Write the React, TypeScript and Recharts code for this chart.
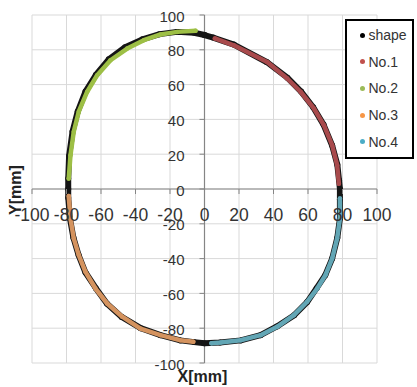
import React from "react";
import {
  ScatterChart,
  Scatter,
  XAxis,
  YAxis,
  CartesianGrid,
  ReferenceLine,
  Legend,
} from "recharts";

// ticks for both axes (mm)
const axisTicks = [-100, -80, -60, -40, -20, 0, 20, 40, 60, 80, 100];

// measured outline, clockwise from the top
const shapePts = [
  { x: 0, y: 88.5 }, { x: 5, y: 87 }, { x: 17, y: 83 }, { x: 36, y: 73 },
  { x: 48, y: 64 }, { x: 56, y: 56 }, { x: 63, y: 47 }, { x: 69, y: 37 },
  { x: 74, y: 25 }, { x: 77, y: 14 }, { x: 78, y: 5 }, { x: 78.5, y: 0 },
  { x: 78.5, y: -6 }, { x: 78.5, y: -17 }, { x: 77, y: -28 }, { x: 74, y: -40 },
  { x: 70, y: -49.5 }, { x: 65, y: -57 }, { x: 59.5, y: -65 }, { x: 52, y: -72.5 },
  { x: 42, y: -79 }, { x: 32.5, y: -84 }, { x: 21, y: -87 }, { x: 9, y: -88.2 },
  { x: 0, y: -88.6 }, { x: -6, y: -88 }, { x: -14, y: -87 }, { x: -25.5, y: -84 },
  { x: -37, y: -80 }, { x: -48, y: -73.5 }, { x: -56.5, y: -66 }, { x: -63, y: -57 },
  { x: -69, y: -48 }, { x: -73, y: -38 }, { x: -76, y: -28 }, { x: -78, y: -17 },
  { x: -79, y: -5 }, { x: -79, y: 0 }, { x: -79, y: 6 }, { x: -78.5, y: 19 },
  { x: -76.5, y: 33 }, { x: -73.5, y: 44.5 }, { x: -69, y: 56 }, { x: -63, y: 65.5 },
  { x: -55.5, y: 74.5 }, { x: -46, y: 81.5 }, { x: -36, y: 86 }, { x: -26, y: 89 },
  { x: -16, y: 90.3 }, { x: -6, y: 89.8 }, { x: 0, y: 88.5 },
];

const no1Pts = [
  { x: 6, y: 86.5 }, { x: 17, y: 82.6 }, { x: 36.3, y: 73 }, { x: 48, y: 63.5 },
  { x: 55.7, y: 55.9 }, { x: 63.4, y: 46.3 }, { x: 69.2, y: 36.7 }, { x: 74, y: 25.2 },
  { x: 76.9, y: 13.7 }, { x: 77.9, y: 3 },
];

const no2Pts = [
  { x: -78.7, y: 6 }, { x: -77.7, y: 19.4 }, { x: -75.8, y: 32.9 }, { x: -72.9, y: 44.4 },
  { x: -68, y: 55.9 }, { x: -62.2, y: 65.4 }, { x: -54.5, y: 74 }, { x: -44.8, y: 80.7 },
  { x: -35.2, y: 85.5 }, { x: -25.5, y: 88.8 }, { x: -15.8, y: 90.3 }, { x: -5.2, y: 90.9 },
];

const no3Pts = [
  { x: -78.7, y: -4 }, { x: -77.7, y: -17 }, { x: -75.8, y: -28.4 }, { x: -72.9, y: -38 },
  { x: -69, y: -47.6 }, { x: -63.2, y: -57.2 }, { x: -56.4, y: -65.8 }, { x: -47.7, y: -73.4 },
  { x: -37.1, y: -80.2 }, { x: -25.5, y: -84 }, { x: -13.9, y: -86.9 }, { x: -6.5, y: -87.8 },
];

const no4Pts = [
  { x: 78.5, y: -5.5 }, { x: 78.5, y: -17 }, { x: 76.9, y: -28.4 }, { x: 74, y: -40 },
  { x: 70.1, y: -49.5 }, { x: 65.3, y: -57.2 }, { x: 59.5, y: -64.8 }, { x: 51.8, y: -72.5 },
  { x: 42.1, y: -79.2 }, { x: 32.5, y: -84 }, { x: 20.9, y: -86.9 }, { x: 9.3, y: -88.2 },
  { x: 4, y: -88.6 },
];

const series = [
  { name: "shape", data: shapePts, dot: "#000000", line: "#151515", width: 6 },
  { name: "No.1", data: no1Pts, dot: "#c0504d", line: "#a84a4c", width: 4.5 },
  { name: "No.2", data: no2Pts, dot: "#9bbb59", line: "#9dbf45", width: 4.5 },
  { name: "No.3", data: no3Pts, dot: "#f79646", line: "#d4935f", width: 4.5 },
  { name: "No.4", data: no4Pts, dot: "#4bacc6", line: "#62a6b5", width: 4.5 },
];

const W = 417;
const H = 387;
const X_AXIS_H = 24;
const Y_AXIS_W = 32;
const M = { top: 15, right: 40, bottom: 0, left: 0 };
const PLOT_L = M.left + Y_AXIS_W;
const PLOT_B = H - M.bottom - X_AXIS_H;
const ZERO_X = PLOT_L + (W - M.right - PLOT_L) / 2;
const ZERO_Y = M.top + (PLOT_B - M.top) / 2;
const FONT = "'Liberation Sans', Arial, sans-serif";
const AXIS = "#858585";

const XTick = (props: any) => {
  const { x, payload } = props;
  return (
    <g>
      <line x1={x} x2={x} y1={ZERO_Y} y2={ZERO_Y + 5} stroke={AXIS} />
      <text x={x} y={ZERO_Y + 32} textAnchor="middle" fontSize={17.5} fill="#333" fontFamily={FONT}>
        {payload.value}
      </text>
    </g>
  );
};

const YTick = (props: any) => {
  const { y, payload } = props;
  return (
    <g>
      <line x1={ZERO_X - 5} x2={ZERO_X} y1={y} y2={y} stroke={AXIS} />
      <text x={ZERO_X - 20} y={y + 6.5} textAnchor="end" fontSize={15} fill="#333" fontFamily={FONT}>
        {payload.value}
      </text>
    </g>
  );
};

const LegendBox = () => (
  <div
    style={{
      width: 69,
      height: 140,
      boxSizing: "border-box",
      border: "2px solid #000",
      background: "#fff",
      paddingTop: 1,
      fontFamily: FONT,
      fontSize: 14,
      color: "#333",
    }}
  >
    {series.map((s) => (
      <div key={s.name} style={{ height: 26.6, display: "flex", alignItems: "center" }}>
        <span
          style={{
            width: 5,
            height: 5,
            borderRadius: "50%",
            background: s.dot,
            marginLeft: 12.5,
            marginRight: 4,
          }}
        />
        <span>{s.name}</span>
      </div>
    ))}
  </div>
);

export default function App() {
  return (
    <div style={{ position: "absolute", left: 0, top: 0, width: W, height: H, background: "#fff" }}>
      <ScatterChart width={W} height={H} margin={M}>
        <CartesianGrid stroke="#d9d9d9" />
        <XAxis
          type="number"
          dataKey="x"
          domain={[-100, 100]}
          ticks={axisTicks}
          interval={0}
          height={X_AXIS_H}
          axisLine={false}
          tickLine={false}
          tick={(p: any) => <XTick {...p} />}
          label={{
            content: () => (
              <text
                x={ZERO_X - 2}
                y={382}
                textAnchor="middle"
                fontSize={16}
                fontWeight="bold"
                fill="#222"
                fontFamily={FONT}
              >
                X[mm]
              </text>
            ),
          }}
        />
        <YAxis
          type="number"
          dataKey="y"
          domain={[-100, 100]}
          ticks={axisTicks}
          interval={0}
          width={Y_AXIS_W}
          axisLine={false}
          tickLine={false}
          tick={(p: any) => <YTick {...p} />}
          label={{
            content: () => (
              <text
                transform={`translate(21, ${ZERO_Y + 1}) rotate(-90)`}
                textAnchor="middle"
                fontSize={16}
                fontWeight="bold"
                fill="#222"
                fontFamily={FONT}
              >
                Y[mm]
              </text>
            ),
          }}
        />
        <ReferenceLine x={0} stroke={AXIS} strokeWidth={1.2} />
        <ReferenceLine y={0} stroke={AXIS} strokeWidth={1.2} />
        {series.map((s) => (
          <Scatter
            key={s.name}
            name={s.name}
            data={s.data}
            fill={s.dot}
            line={{ stroke: s.line, strokeWidth: s.width, strokeLinecap: "round", strokeLinejoin: "round" }}
            shape={(p: any) => <circle cx={p.cx} cy={p.cy} r={s.width / 2} fill={s.line} />}
            isAnimationActive={false}
          />
        ))}
        <Legend
          layout="vertical"
          align="center"
          verticalAlign="middle"
          wrapperStyle={{ left: 345, top: 19, width: 69, height: 140 }}
          content={() => <LegendBox />}
        />
      </ScatterChart>
    </div>
  );
}
